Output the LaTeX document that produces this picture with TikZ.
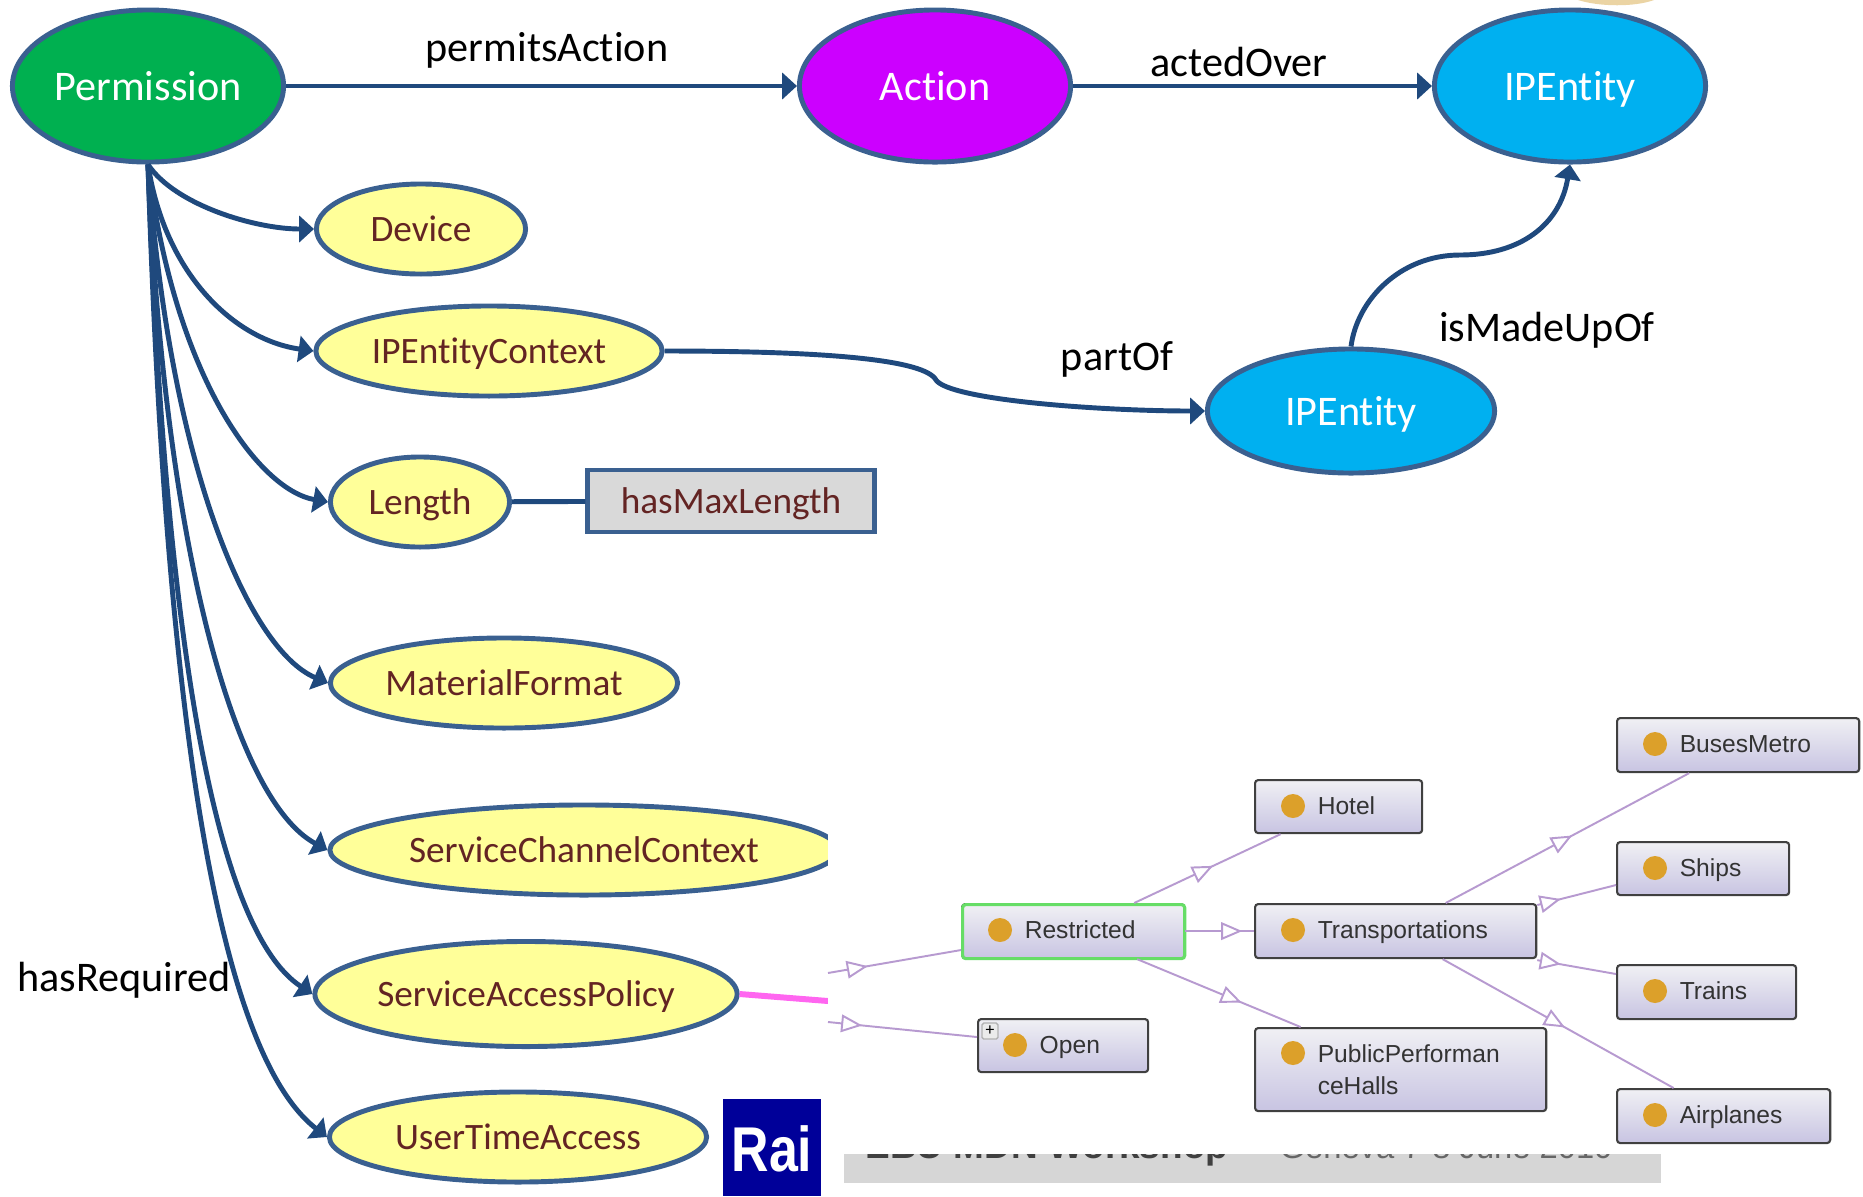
\documentclass[tikz,border=0pt]{standalone}
\usepackage{fontspec}
\setmainfont{Carlito}[Ligatures=NoCommon]
\newfontfamily\ontfont{Liberation Sans}
\usetikzlibrary{shapes.geometric,arrows.meta,decorations.markings}

\definecolor{linkblue}{HTML}{1F497D}
\definecolor{rimblue}{HTML}{3A6090}
\definecolor{wine}{HTML}{632423}
\definecolor{isaline}{HTML}{B79AD0}
\definecolor{permgreen}{HTML}{00B050}
\definecolor{actionpurple}{HTML}{CC00FF}
\definecolor{entityblue}{HTML}{00B0F0}
\definecolor{paleyellow}{HTML}{FFFF99}
\definecolor{boxtop}{HTML}{F0F0F4}
\definecolor{boxbottom}{HTML}{C8C4E2}
\definecolor{dotgold}{HTML}{DCA02A}
\definecolor{raiblue}{HTML}{000099}
\definecolor{linkpink}{HTML}{FF66F0}
\definecolor{rimgreen}{HTML}{66DD66}
\definecolor{arctan}{HTML}{EBD4A4}

\tikzset{%
	mainclass/.style={
		ellipse, draw=rimblue, line width=1.4pt, inner sep=0pt,
		minimum width=2.71cm, minimum height=1.52cm,
		text=white, text height=9.7pt, text depth=1.3pt, font=\fontsize{12}{14}\selectfont
	},
	subclass/.style={
		ellipse, draw=rimblue, fill=paleyellow, line width=1.4pt, inner sep=0pt,
		text=wine, text height=7.9pt, text depth=.9pt, font=\fontsize{10.6}{13}\selectfont
	},
	link/.style={draw=linkblue, line width=1.4pt, ->},
	tag/.style={font=\fontsize{12}{14}\selectfont, text=black, text height=9.5pt, text depth=1.5pt},
	ontbox/.style={
		draw=black!75, line width=.6pt, rounded corners=.9pt, anchor=north west,
		top color=boxtop, bottom color=boxbottom, inner sep=0pt
	},
	ontdot/.style={circle, fill=dotgold, inner sep=0pt, minimum size=.24cm},
	onttext/.style={anchor=west, inner sep=0pt, text=black!80, text height=5pt, text depth=0pt, font=\ontfont\fontsize{7}{9}\selectfont},
	isa/.style={
		draw=isaline, line width=.55pt, postaction={decorate},
		decoration={markings, mark=at position #1 with {\arrow[line width=.55pt]{Triangle[length=6pt,width=5pt,fill=white]}}}
	},
}

\begin{document}
\begin{tikzpicture}[x=.01cm, y=-.01cm, >={Triangle[length=4.2pt,width=7.4pt]}]
\useasboundingbox (0,0) rectangle (1863,1196);

\fill[arctan] (1578,0) .. controls (1600,7) and (1635,7) .. (1654,0) -- cycle;

\node [mainclass, fill=permgreen] (permission) at (148,86) {Permission};
\node [mainclass, fill=actionpurple] (action) at (935,86) {Action};
\node [mainclass, fill=entityblue] (ipentity-top) at (1570,86) {IPEntity};
\node [mainclass, fill=entityblue, minimum width=2.87cm, minimum height=1.24cm] (ipentity-low) at (1351,411) {IPEntity};

\foreach \n/\x/\y/\w/\h/\t in {device/421/229/2.09/.90/Device,
	context/489/351/3.46/.90/IPEntityContext,
	length/420/502/1.79/.90/Length,
	format/504/683/3.47/.90/MaterialFormat,
	channel/584/850/5.08/.90/ServiceChannelContext,
	policy/526/994/4.22/1.05/ServiceAccessPolicy,
	usertime/518/1137/3.77/.90/UserTimeAccess}
\node [subclass, minimum width=\w cm, minimum height=\h cm] (\n) at (\x,\y) {\t};

\node [draw=rimblue, fill=black!15, line width=1.4pt, text=wine, minimum width=2.86cm, minimum height=.62cm,
	text height=7.9pt, text depth=.9pt, font=\fontsize{10.6}{13}\selectfont] (maxlength) at (731,501) {hasMaxLength};

% arrows
\draw [link] (permission) -- (action);
\draw [link] (action) -- (ipentity-top);
\draw [link] (ipentity-low.north) .. controls (1357,300) and (1400,255) .. (1460,255)
	.. controls (1520,255) and (1560,225) .. (ipentity-top.south);
\draw [link] (context.east) .. controls (830,351) and (925,360) .. (936,380)
	.. controls (950,400) and (1100,411) .. (ipentity-low.west);
\draw [draw=linkblue, line width=1.4pt] (length) -- (maxlength);

\draw [link] (permission.south) .. controls (175,205) and (255,229) .. (device.west);
\draw [link] (permission.south) .. controls (165,275) and (235,340) .. (context.west);
\draw [link] (permission.south) .. controls (175,380) and (260,490) .. (length.west);
\draw [link] (permission.south) .. controls (170,470) and (250,650) .. (format.west);
\draw [link] (permission.south) .. controls (165,550) and (235,800) .. (channel.west);
\draw [link] (permission.south) .. controls (165,640) and (215,930) .. (policy.west);
\draw [link] (permission.south) .. controls (165,700) and (215,1050) .. (usertime.west);

\node [tag] at (547,47) {permitsAction};
\node [tag] at (1239,62) {actedOver};
\node [tag] at (1117,356) {partOf};
\node [tag] at (1547,327) {isMadeUpOf};
\node [tag] at (124,977) {hasRequired};

% logo and footer
\node [fill=raiblue, minimum width=.98cm, minimum height=.97cm, inner sep=0pt] (rai) at (772,1147.5) {};
\node [transform shape, xscale=.82, inner sep=0pt, text=white,
	font=\ontfont\bfseries\fontsize{18}{20}\selectfont] (rai-text) at (772,1149) {Rai};
\fill [black!16] (844,1154) rectangle (1661,1183);
\node [anchor=base west, inner sep=0pt, text=black!75, font=\ontfont\bfseries\fontsize{10.5}{12}\selectfont] (workshop) at (865,1158) {EBU MDN Workshop};
\node [anchor=base west, inner sep=0pt, text=black!60, font=\ontfont\fontsize{9.3}{11}\selectfont] (venue) at (1279,1158) {Geneva 7-8 June 2010};

% pasted ontology graph
\coordinate (pink-end) at (828,1001);
\draw [draw=linkpink, line width=1.7pt] (policy.east) -- (pink-end);
\fill [white] (828,700) rectangle (1863,1154);

\foreach \n/\x/\y/\w/\h in {busesmetro/1616/717/2.42/.54, hotel/1254/779/1.67/.53, ships/1616/841/1.72/.53,
	restricted/961/903/2.22/.54, transport/1254/903/2.81/.54, trains/1616/964/1.79/.54,
	open/977/1018/1.70/.53, public/1254/1027/2.91/.83, airplanes/1616/1088/2.13/.54}
\node [ontbox, minimum width=\w cm, minimum height=\h cm] (\n) at (\x,\y) {};

\node [ontbox, draw=rimgreen, line width=.9pt, minimum width=2.22cm, minimum height=.54cm] (restricted-rim) at (961,903) {};

\foreach \n/\t in {busesmetro/BusesMetro, hotel/Hotel, ships/Ships, restricted/Restricted,
	transport/Transportations, trains/Trains, airplanes/Airplanes}
{
	\node [ontdot] (dot-\n) at ([xshift=.39cm,yshift=-.27cm]\n.north west) {};
	\node [onttext] (label-\n) at ([xshift=.63cm,yshift=-.27cm]\n.north west) {\t};
}
\node [ontdot] (dot-open) at ([xshift=.38cm,yshift=-.27cm]open.north west) {};
\node [onttext] (label-open) at ([xshift=.62cm,yshift=-.27cm]open.north west) {Open};
\node [draw=black!30, fill=black!8, rounded corners=.5pt, inner sep=0pt, minimum size=.16cm, font=\fontsize{5}{5}\selectfont] (plus) at ([xshift=.13cm,yshift=-.13cm]open.north west) {+};
\node [ontdot] (dot-public) at ([xshift=.39cm,yshift=-.26cm]public.north west) {};
\node [anchor=north west, inner sep=0pt, align=left, text=black!80, font=\ontfont\fontsize{7}{9.2}\selectfont] (label-public) at ([xshift=.63cm,yshift=-.17cm]public.north west) {PublicPerforman\\ceHalls};

\coordinate (stub-restricted) at (828,973);
\coordinate (stub-open) at (828,1022);
\draw [isa=.3] (stub-restricted) -- ([yshift=-.47cm]restricted.north west);
\draw [isa=.23] (stub-open) -- ([yshift=-.19cm]open.north west);
\draw [isa=.54] ([xshift=.61cm]restricted.north) -- ([xshift=-.58cm]hotel.south);
\draw [isa=.83] (restricted.east) -- (transport.west);
\draw [isa=.64] ([xshift=.64cm]restricted.south) -- ([xshift=-1cm]public.north);
\draw [isa=.52] ([xshift=.5cm]transport.north) -- ([xshift=-.49cm]busesmetro.south);
\draw [isa=.53] ([xshift=.47cm]transport.south) -- ([xshift=-.5cm]airplanes.north);
\draw [isa=.3] ([yshift=-.02cm]transport.north east) -- ([yshift=-.44cm]ships.north west);
\draw [isa=.3] ([yshift=-.01cm]transport.south east) -- ([yshift=-.1cm]trains.north west);

\end{tikzpicture}
\end{document}
